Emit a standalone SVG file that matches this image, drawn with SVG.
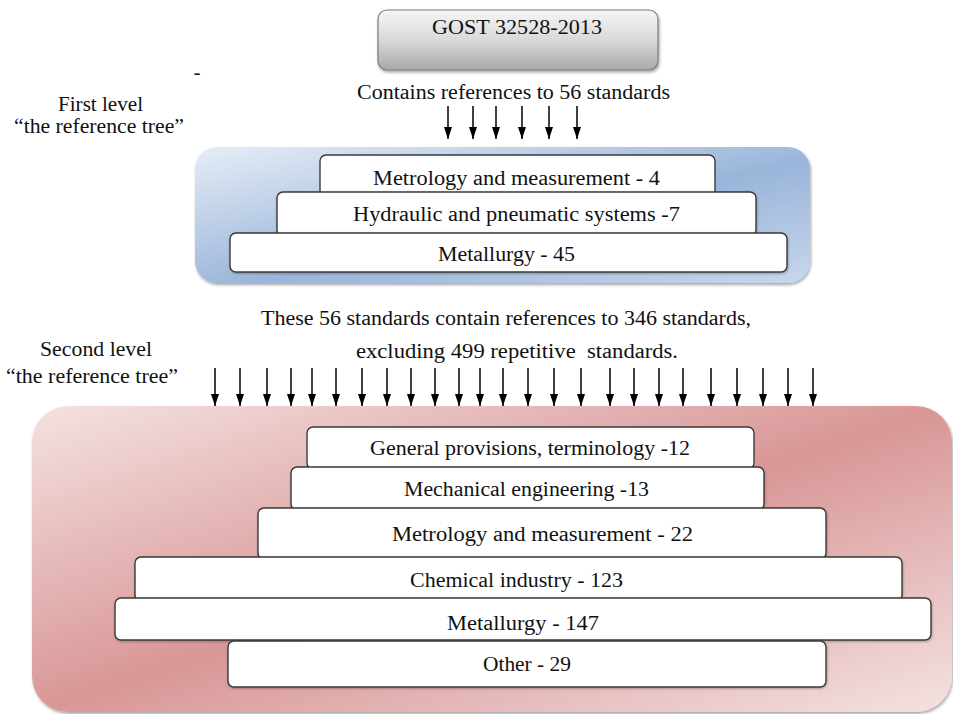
<svg xmlns="http://www.w3.org/2000/svg" width="953" height="714" viewBox="0 0 953 714">
<style>
text{font-family:"Liberation Serif","Times New Roman",serif;fill:#111;font-size:20px;text-anchor:middle}
.box{fill:#fff;stroke:#3a3a3a;stroke-width:1.4}
.arr{stroke:#000;stroke-width:1.5;fill:none;marker-end:url(#ah)}
</style>
<defs>
<marker id="ah" viewBox="0 0 12 8" refX="12" refY="4" markerWidth="12" markerHeight="8" markerUnits="userSpaceOnUse" orient="auto">
<path d="M0,0 L12,4 L0,8 z" fill="#000"/>
</marker>
<linearGradient id="gGost" x1="0" y1="0" x2="0" y2="1">
<stop offset="0" stop-color="#f6f6f6"/>
<stop offset="0.5" stop-color="#d9d9d9"/>
<stop offset="1" stop-color="#a9a9a9"/>
</linearGradient>
<linearGradient id="gBlue" x1="0" y1="0" x2="1" y2="1">
<stop offset="0" stop-color="#e6edf6"/>
<stop offset="0.55" stop-color="#9ab5da"/>
<stop offset="1" stop-color="#c8d7eb"/>
</linearGradient>
<linearGradient id="gRed" x1="0" y1="0" x2="1" y2="1">
<stop offset="0" stop-color="#f4e2e2"/>
<stop offset="0.5" stop-color="#d99696"/>
<stop offset="1" stop-color="#f4e2e2"/>
</linearGradient>
<filter id="sh" x="-5%" y="-5%" width="112%" height="115%">
<feDropShadow dx="1" dy="2" stdDeviation="1.8" flood-color="#000" flood-opacity="0.35"/>
</filter>
<filter id="shs" x="-5%" y="-20%" width="110%" height="150%">
<feDropShadow dx="0.5" dy="1" stdDeviation="0.8" flood-color="#000" flood-opacity="0.3"/>
</filter>
</defs>

<g id="gost">
<rect x="378" y="10" width="280" height="60" rx="9" fill="url(#gGost)" stroke="#7a7a7a" stroke-width="1.2" filter="url(#sh)"/>
<text x="517" y="34" textLength="170" lengthAdjust="spacingAndGlyphs">GOST 32528-2013</text>
</g>

<g id="labels">
<text x="197" y="79" font-size="14">-</text>
<text x="513.5" y="99" textLength="313" lengthAdjust="spacingAndGlyphs">Contains references to 56 standards</text>
<text x="100.5" y="111" textLength="85" lengthAdjust="spacingAndGlyphs">First level</text>
<text x="99" y="133" textLength="170" lengthAdjust="spacingAndGlyphs">“the reference tree”</text>
<text x="506" y="325" textLength="490" lengthAdjust="spacingAndGlyphs">These 56 standards contain references to 346 standards,</text>
<text x="517" y="358" textLength="322" lengthAdjust="spacingAndGlyphs" xml:space="preserve">excluding 499 repetitive  standards.</text>
<text x="96" y="356" textLength="112" lengthAdjust="spacingAndGlyphs">Second level</text>
<text x="92" y="383" textLength="172" lengthAdjust="spacingAndGlyphs">“the reference tree”</text>
</g>

<g id="level1">
<rect x="195" y="147" width="615" height="136" rx="22" fill="url(#gBlue)" filter="url(#sh)"/>
<g id="l1-metrology">
<rect class="box" x="320" y="155" width="395" height="42" rx="6"/>
<text x="516.5" y="185" textLength="287" lengthAdjust="spacingAndGlyphs">Metrology and measurement - 4</text>
</g>
<g id="l1-hydraulic">
<rect class="box" x="277" y="192" width="479" height="44" rx="6" filter="url(#shs)"/>
<text x="516.5" y="221" textLength="327" lengthAdjust="spacingAndGlyphs">Hydraulic and pneumatic systems -7</text>
</g>
<g id="l1-metallurgy">
<rect class="box" x="230" y="233" width="557" height="39" rx="6" filter="url(#shs)"/>
<text x="506.5" y="261" textLength="137" lengthAdjust="spacingAndGlyphs">Metallurgy - 45</text>
</g>
</g>

<g id="level2">
<rect x="32" y="406" width="920" height="306" rx="36" fill="url(#gRed)" filter="url(#sh)"/>
<g id="l2-general">
<rect class="box" x="307" y="427" width="447" height="42" rx="6"/>
<text x="530" y="455" textLength="320" lengthAdjust="spacingAndGlyphs">General provisions, terminology -12</text>
</g>
<g id="l2-mechanical">
<rect class="box" x="291" y="467" width="473" height="43" rx="6" filter="url(#shs)"/>
<text x="526.5" y="496" textLength="245" lengthAdjust="spacingAndGlyphs">Mechanical engineering -13</text>
</g>
<g id="l2-metrology">
<rect class="box" x="258" y="508" width="568" height="51" rx="6" filter="url(#shs)"/>
<text x="542.5" y="541" textLength="301" lengthAdjust="spacingAndGlyphs">Metrology and measurement - 22</text>
</g>
<g id="l2-chemical">
<rect class="box" x="135" y="557" width="767" height="44" rx="6" filter="url(#shs)"/>
<text x="516.5" y="587" textLength="213" lengthAdjust="spacingAndGlyphs">Chemical industry - 123</text>
</g>
<g id="l2-metallurgy">
<rect class="box" x="115" y="598" width="816" height="42" rx="6" filter="url(#shs)"/>
<text x="523" y="630" textLength="152" lengthAdjust="spacingAndGlyphs">Metallurgy - 147</text>
</g>
<g id="l2-other">
<rect class="box" x="228" y="641" width="598" height="46" rx="6" filter="url(#shs)"/>
<text x="527" y="671" textLength="88" lengthAdjust="spacingAndGlyphs">Other - 29</text>
</g>
</g>

<g id="connectors">
<line class="arr" x1="448" y1="106" x2="448" y2="139"/>
<line class="arr" x1="473" y1="106" x2="473" y2="139"/>
<line class="arr" x1="496" y1="106" x2="496" y2="139"/>
<line class="arr" x1="522" y1="106" x2="522" y2="139"/>
<line class="arr" x1="549" y1="106" x2="549" y2="139"/>
<line class="arr" x1="577" y1="106" x2="577" y2="139"/>
<line class="arr" x1="215" y1="368" x2="215" y2="406"/>
<line class="arr" x1="240" y1="368" x2="240" y2="406"/>
<line class="arr" x1="267" y1="368" x2="267" y2="406"/>
<line class="arr" x1="291" y1="368" x2="291" y2="406"/>
<line class="arr" x1="312" y1="368" x2="312" y2="406"/>
<line class="arr" x1="336" y1="368" x2="336" y2="406"/>
<line class="arr" x1="362" y1="368" x2="362" y2="406"/>
<line class="arr" x1="387" y1="368" x2="387" y2="406"/>
<line class="arr" x1="411" y1="368" x2="411" y2="406"/>
<line class="arr" x1="435" y1="368" x2="435" y2="406"/>
<line class="arr" x1="459" y1="368" x2="459" y2="406"/>
<line class="arr" x1="480" y1="368" x2="480" y2="406"/>
<line class="arr" x1="503" y1="368" x2="503" y2="406"/>
<line class="arr" x1="528" y1="368" x2="528" y2="406"/>
<line class="arr" x1="554" y1="368" x2="554" y2="406"/>
<line class="arr" x1="581" y1="368" x2="581" y2="406"/>
<line class="arr" x1="610" y1="368" x2="610" y2="406"/>
<line class="arr" x1="634" y1="368" x2="634" y2="406"/>
<line class="arr" x1="659" y1="368" x2="659" y2="406"/>
<line class="arr" x1="683" y1="368" x2="683" y2="406"/>
<line class="arr" x1="711" y1="368" x2="711" y2="406"/>
<line class="arr" x1="737" y1="368" x2="737" y2="406"/>
<line class="arr" x1="763" y1="368" x2="763" y2="406"/>
<line class="arr" x1="788" y1="368" x2="788" y2="406"/>
<line class="arr" x1="813" y1="368" x2="813" y2="406"/>
</g>
</svg>
